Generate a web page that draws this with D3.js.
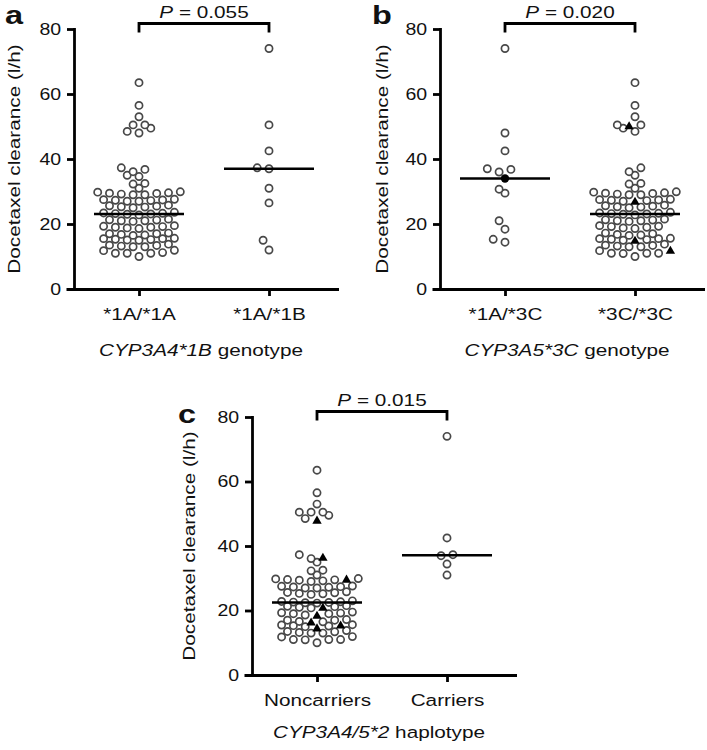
<!DOCTYPE html>
<html><head><meta charset="utf-8">
<script src="https://cdn.jsdelivr.net/npm/d3@7"></script>
<style>
body{margin:0;background:#fff}
svg{display:block}
text{font-family:"Liberation Sans",Arial,Helvetica,sans-serif;fill:#111}
</style>
</head><body>
<svg id="chart" width="707" height="750"></svg>
<script>
// ---------------- DATA ----------------
const yTicks = [0, 20, 40, 60, 80];

// Panel a: CYP3A4*1B genotype
const catsA = ["*1A/*1A", "*1A/*1B"];
const a_1A1A = [
  11.9, 11.0, 10.0, 11.0, 11.2, 11.8, 11.0,
  13.0, 13.5, 13.2, 13.8, 13.4, 13.0,
  15.0, 15.5, 15.2, 15.6, 15.3, 15.1, 15.5,
  16.5, 16.8, 17.0, 16.6, 17.2, 17.0,
  18.8, 19.0, 19.3, 18.6, 19.0, 19.5, 19.2,
  21.0, 21.3, 20.8, 21.2, 21.0, 21.5,
  22.8, 23.0, 23.1, 23.2, 23.4, 23.6, 23.3,
  25.0, 25.5, 25.3, 25.6, 25.2, 25.8,
  27.0, 27.5, 27.2, 27.4, 27.0, 27.6, 27.3,
  29.0, 29.5, 29.2, 29.8, 29.0, 29.4, 29.6, 29.9,
  31.0, 32.3, 32.5,
  34.6, 35.0, 36.1, 36.8, 37.3,
  48.0, 48.5, 49.5, 50.5, 50.5,
  53.0, 56.5, 63.5
];
const a_1A1B = [74.0, 50.5, 42.5, 37.3, 37.0, 31.0, 26.5, 15.0, 12.0];

// Panel b: CYP3A5*3C genotype
const catsB = ["*1A/*3C", "*3C/*3C"];
const b_1A3C = [74.0, 48.0, 42.5, 37.0, 36.0, 36.8, 34.0, 29.5, 30.7, 21.0, 18.4, 14.4, 15.3];
const b_1A3C_filled = [34.0];
const b_3C3C = [
  10.0, 11.0, 10.9, 11.0, 11.0, 11.8, 11.9,
  13.0, 13.5, 13.2, 13.8, 13.4, 13.0,
  15.0, 15.5, 15.2, 15.6, 15.3, 15.0, 15.5,
  16.5, 16.8, 17.0, 16.6, 17.2,
  18.8, 19.3, 18.6, 19.0, 19.5, 19.2,
  21.3, 20.8, 21.2, 21.0, 21.5, 21.0,
  22.8, 23.0, 23.1, 23.2, 23.4, 23.6, 23.3,
  25.0, 25.5, 25.3, 25.6, 25.2, 25.8,
  27.0, 27.5, 27.2, 27.4, 27.0, 27.6, 27.3,
  29.0, 29.5, 29.2, 29.8, 29.0, 29.4, 29.6, 29.9,
  31.0, 32.3, 32.5,
  35.0, 36.1, 37.3,
  48.5, 49.5, 50.2, 50.5, 50.5,
  53.0, 56.5, 63.5
];
const b_3C3C_tri = [11.9, 15.0, 27.0, 50.2];

// Panel c: CYP3A4/5*2 haplotype
const catsC = ["Noncarriers", "Carriers"];
const c_non = [
  11.9, 11.0, 10.9, 10.0, 11.0, 11.0, 11.8,
  13.0, 13.5, 13.2, 13.8, 13.4, 13.0,
  15.0, 15.5, 15.2, 15.6, 15.3, 14.6, 15.5,
  16.5, 16.4, 17.0, 16.6, 17.2, 17.0,
  18.5, 19.0, 19.3, 18.6, 19.0, 19.5, 19.2,
  21.0, 21.3, 20.8, 21.2, 21.0, 21.5,
  22.3, 22.5, 22.6, 22.8, 23.0, 22.7, 22.4,
  25.0, 25.5, 25.3, 25.6, 25.2, 25.8,
  27.0, 27.5, 27.2, 27.4, 27.0, 27.6, 27.3,
  29.0, 29.5, 29.2, 29.8, 29.7, 29.4, 29.6, 29.9,
  31.0, 32.3, 32.5,
  35.0, 36.5, 36.1, 37.3,
  48.0, 48.5, 49.5, 50.5, 50.5, 50.5,
  53.0, 56.5, 63.5
];
const c_non_tri = [14.6, 15.5, 16.4, 18.5, 21.0, 29.7, 36.5, 48.0];
const c_car = [74.0, 42.5, 37.3, 37.0, 34.4, 31.0];

const pLabels = ["0.055", "0.020", "0.015"];
const geneLabels = ["CYP3A4*1B", "CYP3A5*3C", "CYP3A4/5*2"];
const geneSuffix = [" genotype", " genotype", " haplotype"];
const panelLetters = ["a", "b", "c"];
const yTitle = "Docetaxel clearance (l/h)";

// ---------------- LAYOUT ----------------
const panels = [
  {ax: 74, yTop: 29, yBot: 289, cats: catsA,
   groups: [{v: a_1A1A}, {v: a_1A1B}],
   letter: [5, 24], titleX: 19.5, geneY: 356},
  {ax: 440, yTop: 29, yBot: 289, cats: catsB,
   groups: [{v: b_1A3C, filled: b_1A3C_filled}, {v: b_3C3C, tri: b_3C3C_tri}],
   letter: [372, 24], titleX: 387.5, geneY: 356},
  {ax: 252, yTop: 417, yBot: 675, cats: catsC,
   groups: [{v: c_non, tri: c_non_tri}, {v: c_car}],
   letter: [178, 423], titleX: 194.5, geneY: 738}
];

const SX = 1.22;      // horizontal stretch of the wide type face
const H = 5.9;        // half column step of the dot plot
const FONT = '"Liberation Sans", Arial, Helvetica, sans-serif';
const svg = d3.select("#chart");

// Prism-like column scatter: rows binned by 2 units, staggered columns
function swarm(values, tri = [], filled = []) {
  const pts = values.map((v, i) => ({v, i, type: "o", bin: Math.floor(v / 2)}));
  tri.forEach(t => { const p = pts.find(q => q.v === t && q.type === "o"); if (p) p.type = "tri"; });
  filled.forEach(t => { const p = pts.find(q => q.v === t && q.type === "o"); if (p) p.type = "dot"; });
  const sorted = pts.slice().sort((a, b) => a.v - b.v || a.i - b.i);
  const placed = [];
  const cand = [0];
  for (let k = 1; k < 40; k++) { cand.push(-k, k); }
  sorted.forEach(p => {
    for (const k of cand) {
      const dx = k * H;
      const ok = placed.every(q => {
        const db = Math.abs(q.bin - p.bin);
        if (db === 0) return Math.abs(q.dx - dx) >= 2 * H - 0.01;
        if (db === 1) return Math.abs(q.dx - dx) >= H - 0.01;
        return true;
      });
      if (ok) { p.dx = dx; break; }
    }
    placed.push(p);
  });
  return pts;
}

function stretched(sel, x, y, rot = 0, sx = SX) {
  return sel.attr("transform", `translate(${x},${y}) rotate(${rot}) scale(${sx},1)`);
}

panels.forEach((cfg, pi) => {
  const g = svg.append("g");
  const y = d3.scaleLinear().domain([0, 80]).range([cfg.yBot, cfg.yTop]);
  const x = d3.scalePoint().domain(cfg.cats).range([cfg.ax, cfg.ax + 260]).padding(0.5);

  // y axis
  const ya = g.append("g").attr("transform", `translate(${cfg.ax},0)`)
    .call(d3.axisLeft(y).tickValues(yTicks).tickSize(7).tickSizeOuter(0).tickPadding(3.5));
  ya.attr("font-family", FONT).attr("font-size", 16);
  ya.select(".domain").attr("stroke-width", 2.8).attr("stroke-linecap", "square");
  ya.selectAll(".tick line").attr("stroke-width", 2.8);
  ya.selectAll(".tick text").attr("fill", "#111").attr("transform", `scale(${SX},1)`);

  // x axis
  const xa = g.append("g").attr("transform", `translate(0,${cfg.yBot})`)
    .call(d3.axisBottom(x).tickSize(7).tickSizeOuter(0).tickPadding(12));
  xa.attr("font-family", FONT).attr("font-size", 17);
  xa.select(".domain").remove();
  xa.selectAll(".tick line").attr("stroke-width", 2.8);
  xa.selectAll(".tick text").attr("fill", "#111").attr("transform", `scale(${SX},1)`);
  g.append("line")
    .attr("x1", cfg.ax - 7.5).attr("x2", cfg.ax + 265)
    .attr("y1", cfg.yBot + 0.5).attr("y2", cfg.yBot + 0.5)
    .attr("stroke", "#000").attr("stroke-width", 2.8);

  // points
  cfg.groups.forEach((grp, gi) => {
    const cx = x(cfg.cats[gi]);
    const pts = swarm(grp.v, grp.tri || [], grp.filled || []);
    const pg = g.append("g");
    pg.selectAll("circle.o").data(pts.filter(p => p.type === "o")).join("circle")
      .attr("class", "o")
      .attr("cx", p => cx + p.dx).attr("cy", p => y(p.v)).attr("r", 3.6)
      .attr("fill", "#fff").attr("stroke", "#484848").attr("stroke-width", 1.7);
    pg.selectAll("circle.dot").data(pts.filter(p => p.type === "dot")).join("circle")
      .attr("class", "dot")
      .attr("cx", p => cx + p.dx).attr("cy", p => y(p.v)).attr("r", 4.2)
      .attr("fill", "#000");
    pg.selectAll("path.tri").data(pts.filter(p => p.type === "tri")).join("path")
      .attr("class", "tri")
      .attr("d", d3.symbol(d3.symbolTriangle, 38))
      .attr("transform", p => `translate(${cx + p.dx},${y(p.v) + 0.8})`)
      .attr("fill", "#000");
    // median line
    const med = d3.median(grp.v);
    g.append("line")
      .attr("x1", cx - 45).attr("x2", cx + 45)
      .attr("y1", y(med)).attr("y2", y(med))
      .attr("stroke", "#000").attr("stroke-width", 2.6);
  });

  // significance bracket
  const x0 = x(cfg.cats[0]), x1 = x(cfg.cats[1]);
  const yb = cfg.yTop - 5.5;
  g.append("path")
    .attr("d", `M${x0},${yb + 9}V${yb}H${x1}V${yb + 9}`)
    .attr("fill", "none").attr("stroke", "#000").attr("stroke-width", 2.8);
  const pt = stretched(g.append("text"), (x0 + x1) / 2, yb - 6)
    .attr("text-anchor", "middle").attr("font-size", 17);
  pt.append("tspan").attr("font-style", "italic").text("P");
  pt.append("tspan").text(" = " + pLabels[pi]);

  // panel letter
  stretched(g.append("text"), cfg.letter[0], cfg.letter[1], 0, 1.3)
    .attr("font-size", 25).attr("font-weight", "bold").text(panelLetters[pi]);

  // y title
  stretched(g.append("text"), cfg.titleX, (cfg.yTop + cfg.yBot) / 2, -90)
    .attr("text-anchor", "middle").attr("font-size", 17).text(yTitle);

  // gene label
  const gt = stretched(g.append("text"), cfg.ax + 127, cfg.geneY)
    .attr("text-anchor", "middle").attr("font-size", 17);
  gt.append("tspan").attr("font-style", "italic").text(geneLabels[pi]);
  gt.append("tspan").text(geneSuffix[pi]);
});
</script>
</body></html>
